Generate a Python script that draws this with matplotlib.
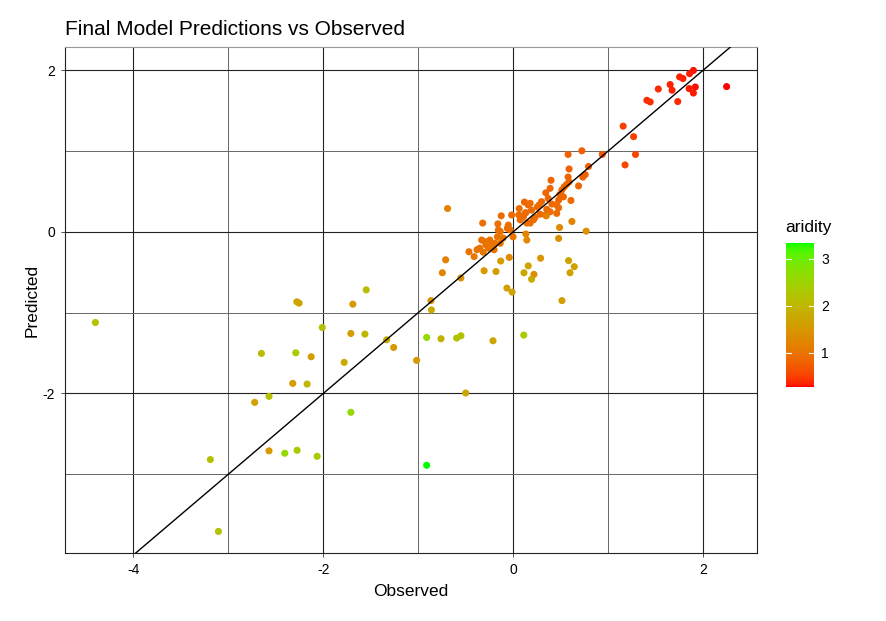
import numpy as np
import matplotlib
matplotlib.use("Agg")
import matplotlib.pyplot as plt
from matplotlib.colors import ListedColormap

plt.rcParams['font.family'] = ['Liberation Sans', 'DejaVu Sans']
plt.rcParams['axes.unicode_minus'] = False

# observed, predicted, aridity
observed = [
    2.25, 1.90, 1.86, 1.755, 1.79, 1.655, 1.675, 1.53, 1.41, 1.445, 1.735, 1.855, 1.92, 1.90,
    1.16, 1.27, 1.29, 1.18, 0.94, 0.725, 0.58, 0.795, 0.59, -0.69,
    0.58, 0.76, 0.735, 0.69, 0.59, 0.565, 0.54, 0.515, 0.495, 0.61, 0.48, 0.48, 0.40, 0.39,
    0.345, 0.37, 0.41, 0.355, 0.30, 0.255, 0.285, 0.23, 0.18, 0.215, 0.12, 0.16, 0.195,
    0.065, 0.135, 0.11, 0.075, 0.06, -0.015, -0.05, -0.03, -0.06, 0.0, -0.125, -0.16,
    -0.135, -0.165, -0.32, -0.33, -0.295, -0.35, -0.26, -0.225, -0.20, -0.285, -0.465,
    -0.41, 0.46, 0.53, 0.46, 0.39, 0.34, 0.275, 0.18, 0.125, 0.145, -0.155, -0.105,
    -0.245, -0.38, -0.315, -0.135, -0.19,
    0.49, 0.77, 0.48, 0.135, 0.145, 0.62, 0.35, 0.29, 0.585, 0.645, 0.60, -0.04, -0.13,
    -0.71, -0.745, -0.55, -0.305, -0.18, 0.16, 0.115, 0.22, 0.195, -0.065, -0.01, -0.865,
    -0.86, 0.515,
    -1.547, -2.278, -2.254, -1.688, -2.01, -1.709, -1.561, -1.332, -1.258, -1.016, -2.651,
    -2.289, -2.127, -1.779, -2.321, -2.17, -2.722, -2.571, -1.709, -2.571, -2.405, -2.275,
    -2.064, -3.189, -3.104, -4.40, -0.91, -0.759, -0.594, -0.549, -0.211, 0.113, -0.499,
    -0.91,
]
predicted = [
    1.80, 2.00, 1.96, 1.92, 1.90, 1.825, 1.755, 1.77, 1.63, 1.61, 1.615, 1.775, 1.795, 1.72,
    1.31, 1.18, 0.96, 0.83, 0.96, 1.005, 0.96, 0.81, 0.78, 0.29,
    0.68, 0.71, 0.68, 0.57, 0.62, 0.59, 0.56, 0.52, 0.465, 0.39, 0.395, 0.30, 0.64, 0.54,
    0.485, 0.415, 0.345, 0.28, 0.375, 0.31, 0.22, 0.18, 0.11, 0.15, 0.37, 0.335, 0.27,
    0.29, 0.24, 0.19, 0.15, 0.21, 0.21, 0.085, 0.025, 0.045, -0.06, 0.20, 0.10,
    0.005, -0.06, 0.11, -0.10, -0.12, -0.20, -0.20, -0.16, -0.22, -0.16, -0.245,
    -0.305, 0.335, 0.435, 0.23, 0.25, 0.21, 0.335, 0.355, 0.23, 0.11, 0.025, -0.075,
    -0.10, -0.22, -0.25, -0.14, -0.14,
    0.055, 0.01, -0.08, -0.025, -0.10, 0.13, 0.20, -0.325, -0.355, -0.43, -0.505, -0.315,
    -0.36, -0.345, -0.505, -0.57, -0.48, -0.49, -0.42, -0.505, -0.525, -0.585, -0.695,
    -0.745, -0.85, -0.965, -0.85,
    -0.717, -0.865, -0.881, -0.894, -1.183, -1.257, -1.265, -1.335, -1.43, -1.59, -1.504,
    -1.496, -1.545, -1.615, -1.875, -1.883, -2.11, -2.036, -2.233, -2.71, -2.74, -2.703,
    -2.778, -2.818, -3.708, -1.121, -1.306, -1.322, -1.314, -1.285, -1.347, -1.277, -1.994,
    -2.889,
]
aridity = [
    0.27, 0.30, 0.32, 0.33, 0.33, 0.35, 0.35, 0.38, 0.40, 0.40, 0.38, 0.32, 0.30, 0.32,
    0.50, 0.50, 0.55, 0.55, 0.70, 0.75, 0.80, 0.75, 0.80, 1.20,
    0.85, 0.80, 0.80, 0.85, 0.85, 0.85, 0.85, 0.85, 0.85, 0.90, 0.85, 0.90, 0.85, 0.85,
    0.85, 0.85, 0.90, 0.90, 0.85, 0.90, 0.90, 0.90, 0.95, 0.90, 0.85, 0.85, 0.90,
    0.90, 0.90, 0.90, 0.95, 0.90, 0.90, 0.95, 0.95, 0.95, 1.00, 0.90, 0.95,
    0.95, 1.00, 0.95, 0.95, 1.00, 1.00, 1.00, 1.00, 1.00, 1.00, 1.00,
    1.05, 0.90, 0.85, 0.90, 0.90, 0.95, 0.90, 0.90, 0.90, 0.95, 0.95, 1.00,
    1.00, 1.00, 1.05, 1.00, 1.00,
    1.30, 1.40, 1.35, 1.25, 1.30, 1.20, 1.15, 1.45, 1.65, 1.65, 1.65, 1.30, 1.60,
    1.15, 1.20, 1.40, 1.50, 1.60, 1.70, 1.70, 1.35, 1.80, 1.60, 1.65, 1.45,
    1.80, 1.60,
    2.10, 1.70, 1.70, 1.50, 2.20, 1.60, 2.00, 1.80, 1.55, 1.50, 2.10,
    2.40, 1.60, 1.80, 1.55, 2.00, 1.65, 2.20, 2.60, 1.50, 2.60, 2.30,
    2.30, 2.20, 2.20, 2.20, 2.60, 1.90, 2.20, 2.20, 1.70, 2.40, 1.70,
    3.34,
]


# ggplot style red -> green gradient, interpolated in CIELAB
def srgb_to_lab(rgb):
    rgb = np.asarray(rgb, dtype=float)
    lin = np.where(rgb <= 0.04045, rgb / 12.92, ((rgb + 0.055) / 1.055) ** 2.4)
    m = np.array([[0.4124, 0.3576, 0.1805],
                  [0.2126, 0.7152, 0.0722],
                  [0.0193, 0.1192, 0.9505]])
    xyz = m @ lin / np.array([0.95047, 1.0, 1.08883])
    f = np.where(xyz > 0.008856, np.cbrt(xyz), 7.787 * xyz + 16 / 116)
    return np.array([116 * f[1] - 16, 500 * (f[0] - f[1]), 200 * (f[1] - f[2])])


def lab_to_srgb(lab):
    L, a, b = lab
    fy = (L + 16) / 116
    fx = fy + a / 500
    fz = fy - b / 200
    f = np.array([fx, fy, fz])
    xyz = np.where(f ** 3 > 0.008856, f ** 3, (f - 16 / 116) / 7.787)
    xyz = xyz * np.array([0.95047, 1.0, 1.08883])
    minv = np.array([[3.2406, -1.5372, -0.4986],
                     [-0.9689, 1.8758, 0.0415],
                     [0.0557, -0.2040, 1.0570]])
    lin = np.clip(minv @ xyz, 0, 1)
    rgb = np.where(lin <= 0.0031308, 12.92 * lin, 1.055 * lin ** (1 / 2.4) - 0.055)
    return np.clip(rgb, 0, 1)


lab_low = srgb_to_lab([1, 0, 0])
lab_high = srgb_to_lab([0, 1, 0])
cols = [lab_to_srgb(lab_low + t * (lab_high - lab_low)) for t in np.linspace(0, 1, 256)]
cmap = ListedColormap(cols)

fig = plt.figure(figsize=(8.86, 6.21), dpi=100)
ax = fig.add_axes([0.0734, 0.1095, 0.781, 0.8148])

ax.set_xlim(-4.72, 2.57)
ax.set_ylim(-3.975, 2.29)
ax.set_xticks([-4, -2, 0, 2])
ax.set_yticks([-2, 0, 2])
ax.set_xticks([-3, -1, 1], minor=True)
ax.set_yticks([-3, -1, 1], minor=True)
ax.grid(True, which='major', color='#222222', linewidth=0.8)
ax.grid(True, which='minor', color='#666666', linewidth=0.7)
ax.set_axisbelow(True)
ax.tick_params(which='major', length=3, width=0.6, color='#333333',
               labelsize=10, labelcolor='black', pad=4)
ax.tick_params(which='minor', length=0)
for s in ax.spines.values():
    s.set_color('#222222')
    s.set_linewidth(0.8)
ax.spines['top'].set_color('#999999')

vmin, vmax = min(aridity), max(aridity)
sc = ax.scatter(observed, predicted, c=aridity, cmap=cmap, vmin=vmin, vmax=vmax,
                s=26, linewidths=0, zorder=3)
ax.axline((0, 0), slope=1, color='black', linewidth=1.0, zorder=4)

ax.set_xlabel('Observed', fontsize=12.5, labelpad=5)
ax.set_ylabel('Predicted', fontsize=12.5, labelpad=2)
fig.text(0.0734, 0.9436, 'Final Model Predictions vs Observed', fontsize=15,
         ha='left', va='baseline')

# colour bar legend
cax = fig.add_axes([0.8871, 0.3768, 0.0316, 0.2319])
cb = fig.colorbar(sc, cax=cax)
cb.outline.set_visible(False)
cb.set_ticks([1, 2, 3])
cax.tick_params(length=0, labelsize=10, pad=5)
for v in [1, 2, 3]:
    cax.plot([0, 0.18], [v, v], color='white', linewidth=0.8)
    cax.plot([0.82, 1], [v, v], color='white', linewidth=0.8)
cax.set_xlim(0, 1)
fig.text(0.886, 0.6215, 'aridity', fontsize=12.5, ha='left', va='bottom')

fig.savefig('out.png', dpi=100)
